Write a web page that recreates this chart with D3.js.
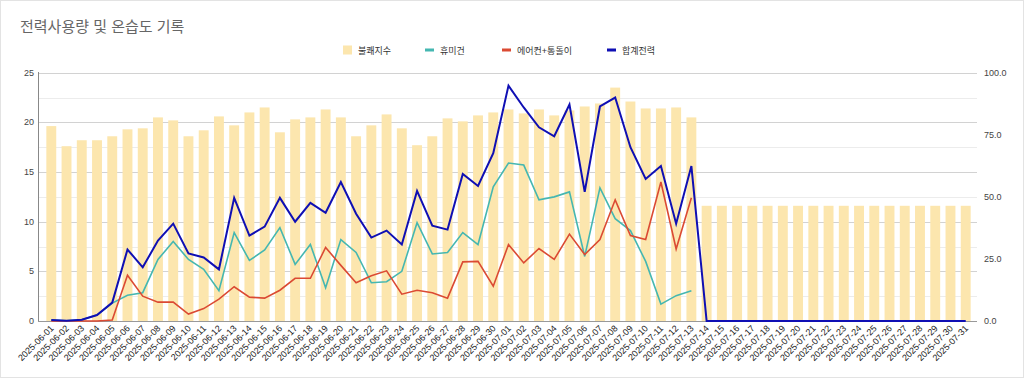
<!DOCTYPE html>
<html>
<head>
<meta charset="utf-8">
<script src="https://cdn.jsdelivr.net/npm/d3@7"></script>
<style>
  html, body { margin: 0; padding: 0; background: #fff; }
  svg { display: block; font-family: Arial, "Liberation Sans", "Noto Sans CJK KR", sans-serif; }
</style>
</head>
<body>
<div id="chart"></div>
<script>
// categories: 2025-06-01 .. 2025-07-31
const days = d3.utcDay.range(new Date(Date.UTC(2025, 5, 1)), new Date(Date.UTC(2025, 7, 1)))
    .map(d3.utcFormat("%Y-%m-%d"));

// 불쾌지수 (right axis)
const discomfort = [78.5, 70.4, 72.8, 72.8, 74.4, 77.2, 77.6, 82.0, 80.8, 74.4,
    76.8, 82.4, 78.8, 84.0, 86.0, 76.0, 81.2, 82.0, 85.2, 82.0,
    74.4, 78.8, 83.2, 77.6, 70.8, 74.4, 81.6, 80.4, 82.8, 84.0,
    85.2, 83.6, 85.2, 82.8, 84.8, 86.4, 87.6, 94.0, 88.4, 85.6,
    85.6, 86.0, 82.0, 46.4, 46.4, 46.4, 46.4, 46.4, 46.4, 46.4,
    46.4, 46.4, 46.4, 46.4, 46.4, 46.4, 46.4, 46.4, 46.4, 46.4, 46.4];

// 휴미건 (left axis)
const humid = [0.1, 0.03, 0.13, 0.6, 1.8, 2.6, 2.85, 6.2, 8.0, 6.2,
    5.2, 3.05, 8.9, 6.1, 7.15, 9.4, 5.7, 7.7, 3.35, 8.2,
    6.9, 3.85, 3.95, 5.0, 9.9, 6.75, 6.9, 8.9, 7.7, 13.5,
    15.9, 15.7, 12.2, 12.5, 13.0, 6.5, 13.4, 10.3, 9.1, 6.0,
    1.7, 2.55, 3.05];

// 에어컨+통돌이 (left axis)
const aircon = [0, 0, 0, 0, 0.1, 4.6, 2.5, 1.9, 1.9, 0.7,
    1.25, 2.2, 3.45, 2.4, 2.3, 3.1, 4.3, 4.3, 7.4, 5.6,
    3.85, 4.55, 5.05, 2.7, 3.1, 2.85, 2.3, 5.95, 6.0, 3.5,
    7.7, 5.85, 7.3, 6.2, 8.75, 6.7, 8.2, 12.2, 8.6, 8.2,
    14.0, 7.25, 12.4];

// 합계전력 (left axis)
const total = [0.1, 0.03, 0.13, 0.6, 1.85, 7.2, 5.4, 8.1, 9.8, 6.8,
    6.4, 5.2, 12.4, 8.6, 9.5, 12.4, 10.0, 11.9, 10.9, 14.0,
    10.8, 8.4, 9.1, 7.7, 13.1, 9.6, 9.2, 14.8, 13.6, 16.9,
    23.7, 21.5, 19.5, 18.6, 21.8, 13.0, 21.6, 22.5, 17.5, 14.3,
    15.6, 9.8, 15.6, 0, 0, 0, 0, 0, 0, 0,
    0, 0, 0, 0, 0, 0, 0, 0, 0, 0, 0];

const leftTicks = [0, 5, 10, 15, 20, 25];
const rightTicks = [0, 25, 50, 75, 100];

const width = 1024, height = 380;
const colors = {bar: "#fce6ae", humid: "#45b7b1", aircon: "#db4a33", total: "#0f0fb4"};

const svg = d3.select("#chart").append("svg")
    .attr("width", width)
    .attr("height", height);

svg.append("rect")
    .attr("x", 0.5).attr("y", 0.5)
    .attr("width", width - 1).attr("height", 377)
    .attr("fill", "#fff")
    .attr("stroke", "#e3e3e3");

svg.append("text")
    .attr("x", 20).attr("y", 32)
    .attr("fill", "#666")
    .style("font-size", "15px")
    .text("전력사용량 및 온습도 기록");

const x = d3.scaleBand().domain(days).range([41, 976]).padding(0.35);
const yL = d3.scaleLinear().domain([0, 25]).range([321, 72.7]);
const yR = d3.scaleLinear().domain([0, 100]).range([321, 72.7]);

// gridlines: minor every 2.5, major every 5
const grid = svg.append("g");
grid.selectAll("line.minor").data(d3.range(2.5, 25, 5))
    .join("line")
    .attr("class", "minor")
    .attr("x1", 39).attr("x2", 977)
    .attr("y1", d => Math.round(yL(d)) + 0.5).attr("y2", d => Math.round(yL(d)) + 0.5)
    .attr("stroke", "#ececec");
grid.selectAll("line.major").data(leftTicks.slice(1))
    .join("line")
    .attr("class", "major")
    .attr("x1", 39).attr("x2", 977)
    .attr("y1", d => Math.round(yL(d)) + 0.5).attr("y2", d => Math.round(yL(d)) + 0.5)
    .attr("stroke", "#d2d2d2");

// bars
svg.append("g").selectAll("rect").data(discomfort)
    .join("rect")
    .attr("x", (d, i) => x(days[i]))
    .attr("width", x.bandwidth())
    .attr("y", d => yR(d))
    .attr("height", d => yR(0) - yR(d))
    .attr("fill", colors.bar);

// axes lines
svg.append("line")
    .attr("x1", 38.5).attr("x2", 38.5).attr("y1", 72).attr("y2", 321)
    .attr("stroke", "#888");
svg.append("line")
    .attr("x1", 38).attr("x2", 977).attr("y1", 321.5).attr("y2", 321.5)
    .attr("stroke", "#999");

// lines
const line = d3.line()
    .x((d, i) => x(days[i]) + x.bandwidth() / 2)
    .y(d => yL(d));

[[humid, colors.humid, 1.6], [aircon, colors.aircon, 1.6], [total, colors.total, 2]].forEach(function(s) {
    svg.append("path")
        .datum(s[0])
        .attr("fill", "none")
        .attr("stroke", s[1])
        .attr("stroke-width", s[2])
        .attr("stroke-linejoin", "miter")
        .attr("d", line);
});

// left axis labels
svg.append("g").selectAll("text").data(leftTicks)
    .join("text")
    .attr("x", 34).attr("y", d => yL(d) + 3)
    .attr("text-anchor", "end")
    .attr("fill", "#444")
    .style("font-size", "9px")
    .text(d => d);

// right axis labels
svg.append("g").selectAll("text").data(rightTicks)
    .join("text")
    .attr("x", 984).attr("y", d => yR(d) + 3)
    .attr("fill", "#444")
    .style("font-size", "9px")
    .text(d => d3.format(".1f")(d));

// x labels
svg.append("g").selectAll("text").data(days)
    .join("text")
    .attr("transform", d => `translate(${x(d) + x.bandwidth() / 2 + 3},${329}) rotate(-45)`)
    .attr("text-anchor", "end")
    .attr("fill", "#222")
    .style("font-size", "9px")
    .text(d => d);

// legend
const legend = [
    {name: "불쾌지수", type: "bar", color: colors.bar, x: 343},
    {name: "휴미건", type: "line", color: colors.humid, x: 425},
    {name: "에어컨+통돌이", type: "line", color: colors.aircon, x: 502},
    {name: "합계전력", type: "line", color: colors.total, x: 607}
];
const lg = svg.append("g").selectAll("g").data(legend).join("g")
    .attr("transform", d => `translate(${d.x},50)`);
lg.append("rect")
    .attr("x", 0)
    .attr("y", d => d.type == "bar" ? -4.5 : -1.5)
    .attr("width", 9)
    .attr("height", d => d.type == "bar" ? 9 : 3)
    .attr("fill", d => d.color);
lg.append("text")
    .attr("x", d => d.type == "bar" ? 15 : 15)
    .attr("y", 3.5)
    .attr("fill", "#333")
    .style("font-size", "9px")
    .text(d => d.name);
</script>
</body>
</html>
